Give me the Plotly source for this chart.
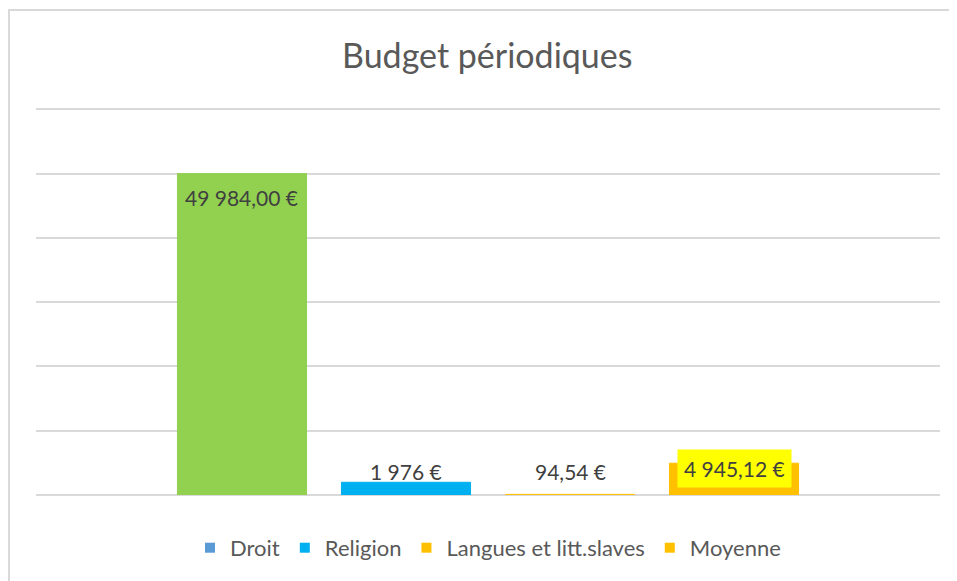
"""Budget périodiques - histogramme groupé"""
import plotly.graph_objects as go

# données
series = ["Droit", "Religion", "Langues et litt.slaves", "Moyenne"]
budget = [49984.00, 1976, 94.54, 4945.12]
decimals = [2, 0, 2, 2]
bar_colors = ["#92D050", "#00B0F0", "#FFC000", "#FFC000"]
legend_colors = ["#5B9BD5", "#00B0F0", "#FFC000", "#FFC000"]
y_ticks = [0, 10000, 20000, 30000, 40000, 50000, 60000]

FONT = "Lato"
GREY = "#595959"
GRID = "#D9D9D9"


def euro(v, d):
    """format français : 49 984,00 €"""
    s = f"{v:,.{d}f}".replace(",", " ").replace(".", ",")
    return s + " €"


labels = [euro(v, d) for v, d in zip(budget, decimals)]

fig = go.Figure()

for i, name in enumerate(series):
    fig.add_trace(
        go.Bar(
            x=[name],
            y=[budget[i]],
            width=0.787,
            marker=dict(color=bar_colors[i], line=dict(color=bar_colors[i], width=1)),
            showlegend=False,
            hoverinfo="skip",
        )
    )

# entrées de légende (carrés)
for name, col in zip(series, legend_colors):
    fig.add_trace(
        go.Scatter(
            x=[None],
            y=[None],
            mode="markers",
            marker=dict(symbol="square", size=10, color=col),
            name=name,
        )
    )

# étiquettes de données
for i, name in enumerate(series):
    big = budget[i] > 10000
    fig.add_annotation(
        x=name,
        y=budget[i] if big else 0,
        text=labels[i],
        showarrow=False,
        yanchor="top" if big else "bottom",
        yshift=-7 if big else 7,
        font=dict(family=FONT, size=21, color="#404040"),
        bgcolor="#FFFF00" if name == "Moyenne" else None,
        borderpad=6 if name == "Moyenne" else 3,
    )

# cadre du graphique
fig.add_shape(
    type="rect", xref="paper", yref="paper",
    x0=-0.0299, x1=1.2, y0=-0.5, y1=1.2468,
    line=dict(color=GRID, width=2), fillcolor="rgba(0,0,0,0)", layer="below",
)

fig.update_layout(
    width=949,
    height=573,
    margin=dict(l=28, r=17, t=98, b=86),
    paper_bgcolor="white",
    plot_bgcolor="white",
    barmode="overlay",
    title=dict(
        text="Budget périodiques",
        x=0.505, xanchor="center",
        y=1 - 48 / 573, yanchor="middle", yref="container",
        font=dict(family=FONT, size=34, color=GREY),
    ),
    xaxis=dict(
        range=[-1.256, 4.256],
        showticklabels=False,
        showgrid=False,
        zeroline=False,
        ticks="",
        fixedrange=True,
    ),
    yaxis=dict(
        range=[0, 60500],
        tickvals=y_ticks,
        showticklabels=False,
        gridcolor=GRID,
        gridwidth=2,
        zeroline=True,
        zerolinecolor=GRID,
        zerolinewidth=2,
        ticks="",
    ),
    legend=dict(
        orientation="h",
        x=0.5, xanchor="center",
        y=-0.136, yanchor="middle",
        font=dict(family=FONT, size=22, color=GREY),
        itemwidth=30,
    ),
    showlegend=True,
)

fig.write_html("out.html")
